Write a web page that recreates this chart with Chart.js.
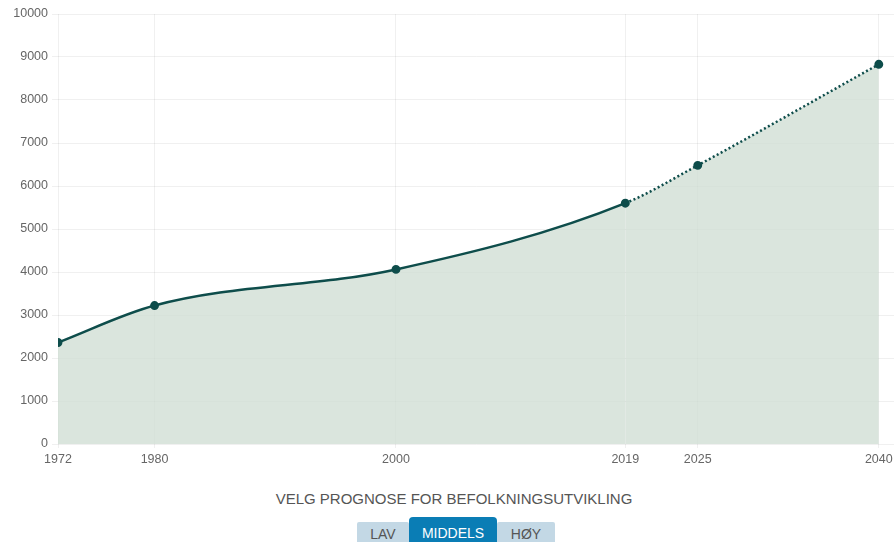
<!DOCTYPE html>
<html>
<head>
  <meta charset="UTF-8">
  <title>Befolkningsutvikling</title>
  <script src="https://cdn.jsdelivr.net/npm/chart.js"></script>
  <style>
    body { margin: 0; background: #fff; font-family: Arial, "Liberation Sans", sans-serif; overflow: hidden; width: 894px; }
    #wrap { position: relative; width: 901px; height: 471px; }
    #caption { width: 894px; text-align: center; color: #555; font-size: 15px; margin-top: 19px; padding-left: 14px; box-sizing: border-box; }
    #buttons { width: 894px; display: flex; justify-content: center; align-items: flex-end; margin-top: 10px; padding-left: 18px; box-sizing: border-box; height: 25px; }
    #buttons button { border: 0; font-family: inherit; font-size: 14px; color: #555; background: #c3d8e5; height: 20px; padding: 4px 0 0 0; margin: 0; border-radius: 2px 2px 0 0; }
    #buttons button.active { background: #0a7db5; color: #fff; height: 25px; border-radius: 4px 4px 0 0; padding-top: 6px; }
  </style>
</head>
<body>
  <div id="wrap"><canvas id="myChart"></canvas></div>
  <div id="caption">VELG PROGNOSE FOR BEFOLKNINGSUTVIKLING</div>
  <div id="buttons">
    <button style="width:52px">LAV</button><button class="active" style="width:88px">MIDDELS</button><button style="width:58px">HØY</button>
  </div>

  <script>
    const years = [1972, 1980, 2000, 2019, 2025, 2040];
    const population = [2360, 3220, 4060, 5600, 6480, 8830];
    const lastActualYear = 2019;
    const yTicks = [0, 1000, 2000, 3000, 4000, 5000, 6000, 7000, 8000, 9000, 10000];

    const lineColor = '#0e4d4b';
    const ctx = document.getElementById('myChart').getContext('2d');

    new Chart(ctx, {
      type: 'line',
      data: {
        datasets: [{
          data: years.map((y, i) => ({ x: y, y: population[i] })),
          borderColor: lineColor,
          borderWidth: 2.5,
          backgroundColor: 'rgba(205,220,209,0.75)',
          fill: 'origin',
          cubicInterpolationMode: 'monotone',
          pointRadius: 3.2,
          pointBackgroundColor: lineColor,
          pointBorderColor: lineColor,
          segment: {
            borderDash: c => c.p0.parsed.x >= lastActualYear ? [2, 2.5] : undefined
          }
        }]
      },
      options: {
        responsive: true,
        maintainAspectRatio: false,
        animation: false,
        layout: { padding: { top: 14, right: 0, left: 0, bottom: 0 } },
        plugins: { legend: { display: false }, tooltip: { enabled: false } },
        scales: {
          x: {
            type: 'linear',
            min: 1972,
            max: 2041.3,
            afterBuildTicks: s => { s.ticks = years.map(v => ({ value: v })); },
            ticks: { color: '#666', font: { size: 12.5 }, maxRotation: 0, autoSkip: false, callback: v => String(v), padding: 4 },
            grid: { color: 'rgba(0,0,0,0.06)', tickLength: 4 },
            border: { display: false }
          },
          y: {
            min: 0,
            max: 10000,
            afterBuildTicks: s => { s.ticks = yTicks.map(v => ({ value: v })); },
            afterFit: s => { s.width = 58; },
            ticks: { color: '#666', font: { size: 12.5 }, padding: 4, callback: v => String(v) },
            grid: { color: 'rgba(0,0,0,0.06)', tickLength: 6 },
            border: { display: false }
          }
        }
      }
    });
  </script>
</body>
</html>
